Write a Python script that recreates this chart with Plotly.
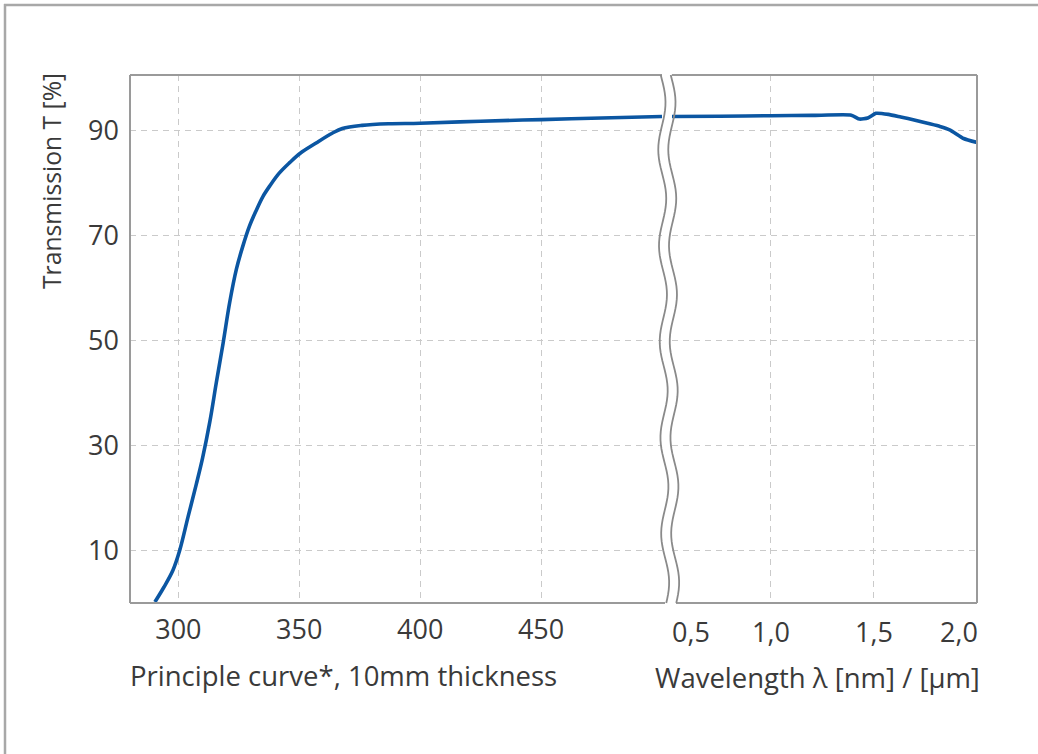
import math
import plotly.graph_objects as go

W, H = 1038, 754

# ---- data ----
nm_x = [290.3, 294.0, 297.8, 300.6, 304.0, 307.4, 310.0, 313.0, 315.7, 318.5, 321.2,
        324.0, 326.6, 329.4, 332.0, 334.9, 338.0, 341.7, 346.0, 350.4, 356.8, 363.6, 367.8,
        376.0, 387.0, 400.0, 425.0, 450.0, 475.0, 500.0]
nm_y = [0.2, 3.0, 6.3, 10.1, 16.4, 22.6, 27.6, 34.5, 42.0, 49.5, 57.2,
        63.6, 67.9, 71.8, 74.6, 77.4, 79.6, 81.9, 83.9, 85.7, 87.6, 89.5, 90.4,
        91.0, 91.3, 91.4, 91.8, 92.1, 92.4, 92.7]

um_x = [0.52, 0.75, 1.0, 1.2, 1.39, 1.43, 1.47, 1.51, 1.57, 1.63, 1.70, 1.76, 1.82, 1.87, 1.935, 2.0]
um_y = [92.7, 92.75, 92.85, 92.9, 92.95, 92.2, 92.4, 93.3, 93.1, 92.6, 92.0, 91.4, 90.8, 90.1, 88.5, 87.75]

y_ticks = [10, 30, 50, 70, 90]
nm_ticks = [300, 350, 400, 450]
um_ticks = [0.5, 1.0, 1.5, 2.0]
um_ticktext = ["0,5", "1,0", "1,5", "2,0"]

y_title = "Transmission T [%]"
left_title = "Principle curve*, 10mm thickness"
right_title = "Wavelength λ [nm] / [µm]"

# ---- layout helpers (pixel -> paper) ----
def px(x):
    return x / W

def py(y):
    return 1 - y / H

L0, L1 = 130, 662
R0, R1 = 672, 977
TOP, BOT = 75, 603

FONT = "Open Sans"
TXT = "#3a3a3a"
LINE = "#0b56a2"
FRAME = "#9a9a9a"
GRID = "#cacaca"
TICK_SIZE = 27
DASH = "6px,5px"

fig = go.Figure()
fig.add_trace(go.Scatter(x=nm_x, y=nm_y, mode="lines", xaxis="x", yaxis="y",
                         line=dict(color=LINE, width=3.6, shape="spline", smoothing=1.0),
                         showlegend=False, hoverinfo="skip"))
fig.add_trace(go.Scatter(x=um_x, y=um_y, mode="lines", xaxis="x2", yaxis="y2",
                         line=dict(color=LINE, width=3.6, shape="spline", smoothing=0.5),
                         showlegend=False, hoverinfo="skip"))

yax = dict(range=[0, 100.6], tickvals=y_ticks, showgrid=True, gridcolor=GRID,
           griddash=DASH, gridwidth=1.4, zeroline=False, showline=False, ticks="",
           domain=[py(BOT), py(TOP)], automargin=False)

shapes = []
def seg(x0, y0, x1, y1, color=FRAME, width=2):
    shapes.append(dict(type="line", xref="paper", yref="paper",
                       x0=px(x0), y0=py(y0), x1=px(x1), y1=py(y1),
                       line=dict(color=color, width=width), layer="above"))

# panel frames
seg(L0, TOP, L1, TOP)
seg(L0, TOP, L0, BOT)
seg(L0, BOT, 665, BOT)
seg(R0, TOP, R1, TOP)
seg(R1, TOP, R1, BOT)
seg(676, BOT, R1, BOT)

# outer picture frame (top and left)
seg(4, 5, W, 5, color="#a8a8a8", width=2.5)
seg(5, 4, 5, H, color="#a8a8a8", width=2.5)

# wavy axis-break lines
def wave_path(x_base):
    pts = []
    n = 120
    for i in range(n + 1):
        yy = TOP + (BOT - TOP) * i / n
        xx = (x_base + 3.8 * math.sin(2 * math.pi * (yy - TOP) / 96.0 - 0.2)
              + 4.0 * (yy - TOP) / (BOT - TOP))
        pts.append((px(xx), py(yy)))
    return "M " + " L ".join(f"{a:.5f},{b:.5f}" for a, b in pts)

for xb in (661.5, 671.5):
    shapes.append(dict(type="path", xref="paper", yref="paper", path=wave_path(xb),
                       line=dict(color="#8a8a8a", width=1.8), layer="above"))

fig.update_layout(
    width=W, height=H,
    margin=dict(l=0, r=0, t=0, b=0),
    paper_bgcolor="white", plot_bgcolor="white",
    font=dict(family=FONT, color=TXT, size=TICK_SIZE),
    xaxis=dict(range=[280, 500], tickvals=nm_ticks, showgrid=True, gridcolor=GRID,
               griddash=DASH, gridwidth=1.4, zeroline=False, showline=False, ticks="",
               domain=[px(L0), px(L1)], anchor="y", automargin=False,
               ticklabelstandoff=8, tickfont=dict(size=TICK_SIZE)),
    yaxis=dict(**yax, anchor="x", ticklabelstandoff=10, tickfont=dict(size=TICK_SIZE)),
    xaxis2=dict(range=[0.52, 2.0], tickvals=um_ticks[1:3], showticklabels=False,
                showgrid=True, gridcolor=GRID, griddash=DASH, gridwidth=1.4,
                zeroline=False, showline=False, ticks="",
                domain=[px(R0), px(R1)], anchor="y2", automargin=False),
    yaxis2=dict(**yax, anchor="x2", showticklabels=False),
    shapes=shapes,
)

annotations = []
# µm-axis tick labels (edge labels shifted inward as in the reference)
anchors = ["left", "center", "center", "right"]
for v, t, a in zip(um_ticks, um_ticktext, anchors):
    xv = max(v, 0.52)
    annotations.append(dict(x=xv, y=py(631), xref="x2", yref="paper", text=t,
                            showarrow=False, xanchor=a, yanchor="middle",
                            xshift=(-2 if a == "left" else (3 if a == "right" else 0)),
                            font=dict(size=TICK_SIZE, color=TXT, family=FONT)))
annotations.append(dict(x=px(128), y=py(675), xref="paper", yref="paper", text=left_title,
                        showarrow=False, xanchor="left", yanchor="middle",
                        font=dict(size=27.5, color=TXT, family=FONT)))
annotations.append(dict(x=px(982), y=py(677), xref="paper", yref="paper", text=right_title,
                        showarrow=False, xanchor="right", yanchor="middle",
                        font=dict(size=27.5, color=TXT, family=FONT)))
annotations.append(dict(x=px(51), y=py(71), xref="paper", yref="paper", text=y_title,
                        showarrow=False, xanchor="center", yanchor="top", textangle=-90,
                        font=dict(size=24.7, color=TXT, family=FONT)))
fig.update_layout(annotations=annotations)

fig.write_html("out.html", config={"displayModeBar": False},
               post_script="document.body.style.margin='0px';document.body.style.overflow='hidden';")
